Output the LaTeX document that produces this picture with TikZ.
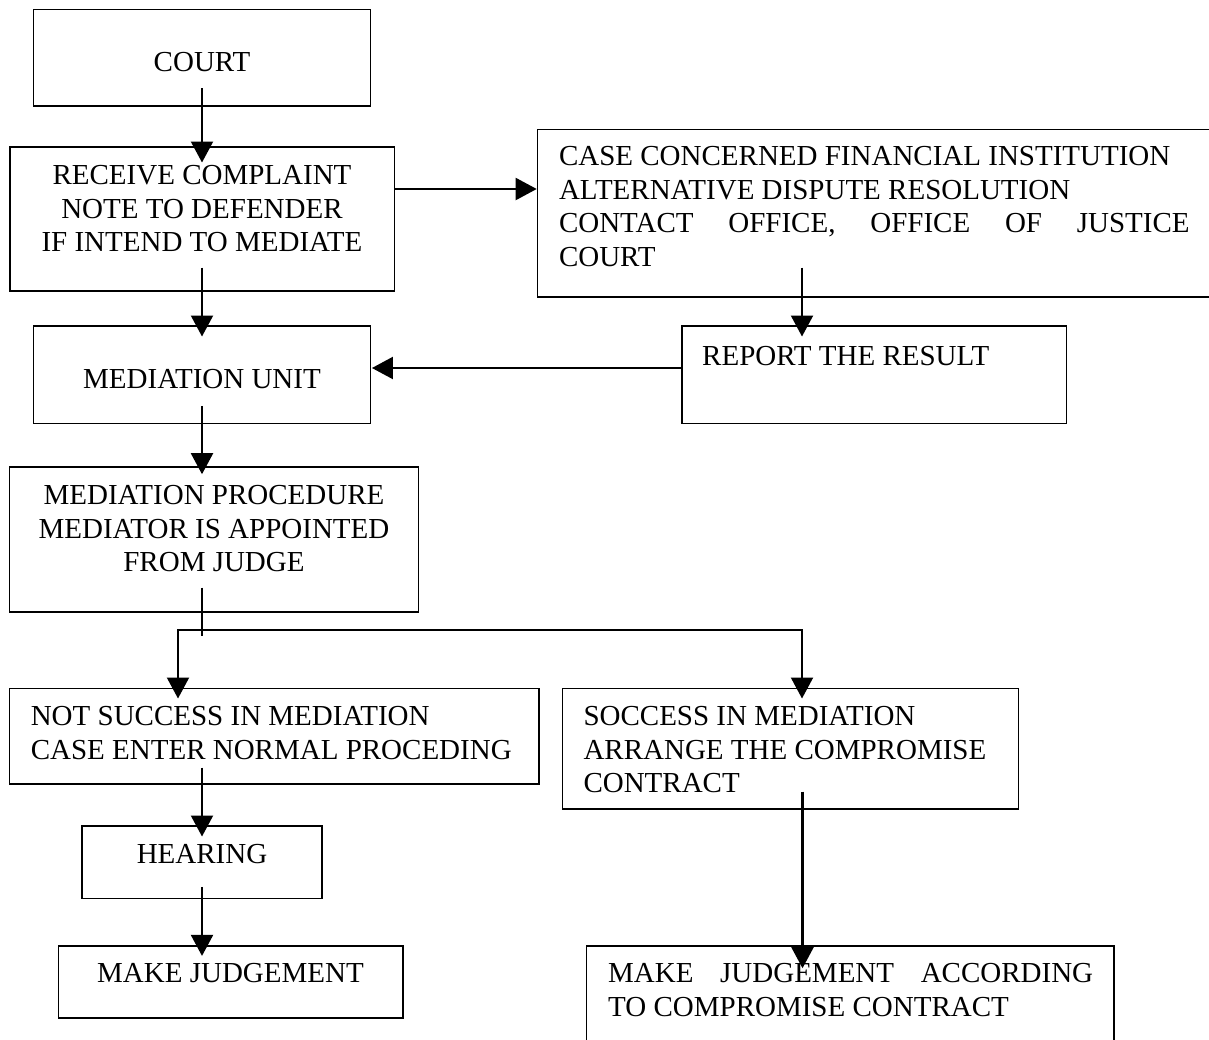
\documentclass[tikz,border=0pt]{standalone}
\usepackage{fontspec}
\setmainfont{Liberation Serif}
\usetikzlibrary{arrows.meta}
\begin{document}
\begin{tikzpicture}[x=1pt,y=-1pt,
  box/.style={draw,line width=1.6pt,inner sep=0pt,rectangle},
  txt/.style={inner sep=0pt,font=\fontsize{29}{33.5}\selectfont},
  arr/.style={line width=2.1pt,-{Triangle[length=21pt,width=22pt]}},
  arrb/.style={line width=2.1pt,{Triangle[length=21pt,width=22pt]}-{Triangle[length=21pt,width=22pt]}},
  plain/.style={line width=2.1pt}]
\useasboundingbox (0,0) rectangle (1209,1039);
\fill[white] (0,0) rectangle (1209,1039);
\clip (0,0) rectangle (1209,1039);

% boxes
\node[box,minimum width=336.7pt,minimum height=96.7pt] (court) at (202,57.65) {};
\node[box,minimum width=384.6pt,minimum height=144.3pt] (recv) at (202,218.85) {};
\node[box,minimum width=677.5pt,minimum height=167.7pt] (case) at (876.25,213.15) {};
\node[box,minimum width=336.7pt,minimum height=97.3pt] (mu) at (202,374.65) {};
\node[box,minimum width=384.8pt,minimum height=97.3pt] (report) at (874.2,374.65) {};
\node[box,minimum width=408.7pt,minimum height=145pt] (mp) at (213.95,539.2) {};
\node[box,minimum width=529.2pt,minimum height=95.7pt] (ns) at (274.2,736.15) {};
\node[box,minimum width=456.2pt,minimum height=120.7pt] (soc) at (790.4,748.65) {};
\node[box,minimum width=239.8pt,minimum height=72.3pt] (hear) at (202,862.15) {};
\node[box,minimum width=344.6pt,minimum height=72pt] (mj) at (230.9,981.7) {};
\node[box,minimum width=527.7pt,minimum height=99.3pt] (mjc) at (850.35,995.35) {};

% texts
\node[txt,anchor=base] (courtT) at (202,71.7) {COURT};
\node[txt,anchor=north,align=center] (recvT) at (202,165.4) {RECEIVE COMPLAINT\\NOTE TO DEFENDER\\IF INTEND TO MEDIATE};
\node[txt,anchor=north west,align=left] (caseT) at (558.8,146.4) {CASE CONCERNED FINANCIAL INSTITUTION\\ALTERNATIVE DISPUTE RESOLUTION\\\makebox[630.7pt][s]{CONTACT OFFICE, OFFICE OF JUSTICE}\\COURT};
\node[txt,anchor=base] (muT) at (202,388.3) {MEDIATION UNIT};
\node[txt,anchor=base west] (reportT) at (702,365) {REPORT THE RESULT};
\node[txt,anchor=north,align=center] (mpT) at (214,485.4) {MEDIATION PROCEDURE\\MEDIATOR IS APPOINTED\\FROM JUDGE};
\node[txt,anchor=north west,align=left] (nsT) at (30.6,706.4) {NOT SUCCESS IN MEDIATION\\CASE ENTER NORMAL PROCEDING};
\node[txt,anchor=north west,align=left] (socT) at (583.3,706.4) {SOCCESS IN MEDIATION\\ARRANGE THE COMPROMISE\\CONTRACT};
\node[txt,anchor=base] (hearT) at (202,863.3) {HEARING};
\node[txt,anchor=base] (mjT) at (230.5,982.7) {MAKE JUDGEMENT};
\node[txt,anchor=north west,align=left] (mjcT) at (608,963.1) {\makebox[485pt][s]{MAKE JUDGEMENT ACCORDING}\\TO COMPROMISE CONTRACT};

% connectors
\draw[arr] ([shift={(0,-18.7)}]court.south) -- ([shift={(0,16.6)}]recv.north);
\draw[arr] ([shift={(0,-29.85)}]recv.east) -- ([shift={(0,-24.15)}]case.west);
\draw[arr] ([shift={(0,-24.3)}]recv.south) -- ([shift={(0,11.3)}]mu.north);
\draw[arr] ([shift={(-74.25,-30.3)}]case.south) -- ([shift={(-72.2,11.3)}]report.north);
\draw[arr] ([shift={(0,-6.65)}]report.west) -- ([shift={(0.8,-6.65)}]mu.east);
\draw[arr] ([shift={(0,-18.3)}]mu.south) -- ([shift={(-11.95,8.3)}]mp.north);
\coordinate (j) at ([shift={(-11.95,17.3)}]mp.south);
\coordinate (tl) at ([shift={(-96.2,11)}]ns.north);
\coordinate (tr) at ([shift={(11.6,11)}]soc.north);
\draw[plain] ([shift={(-11.95,-25)}]mp.south) -- ([shift={(0,6)}]j);
\draw[arrb] (tl) |- (j) -| (tr);
\draw[arr] ([shift={(-72.2,-17.3)}]ns.south) -- ([shift={(0,11.3)}]hear.north);
\draw[arr] ([shift={(0,-12.3)}]hear.south) -- ([shift={(-28.9,11)}]mj.north);
\draw[arr] ([shift={(12.1,-18.3)}]soc.south) -- ([shift={(-47.85,23.3)}]mjc.north);
\end{tikzpicture}
\end{document}
